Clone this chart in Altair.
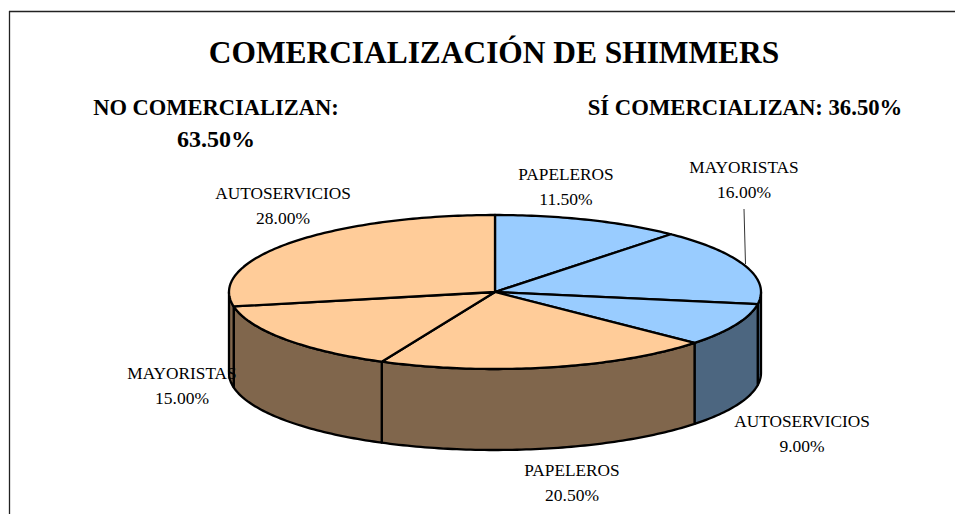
import math
import altair as alt
import pandas as pd

# ---- values (clockwise from 12 o'clock) ----
categories = ["PAPELEROS", "MAYORISTAS", "AUTOSERVICIOS", "PAPELEROS", "MAYORISTAS", "AUTOSERVICIOS"]
shares = [11.5, 16.0, 9.0, 20.5, 15.0, 28.0]
top_colors = ["#99CCFF", "#99CCFF", "#99CCFF", "#FFCC99", "#FFCC99", "#FFCC99"]
wall_colors = ["#4C6680", "#4C6680", "#4C6680", "#80664C", "#80664C", "#80664C"]
title_text = "COMERCIALIZACIÓN DE SHIMMERS"
left_head = ["NO COMERCIALIZAN:", "63.50%"]
right_head = ["SÍ COMERCIALIZAN: 36.50%"]

# ---- layout (pixels on the 963x522 page) ----
M = 8
W, H = 947, 506
CX, CY, RX, RY, DEPTH = 495, 292, 266, 77, 81
FONT = "Liberation Serif"
LINE = 2.3
label_pos = [(566, 180), (744, 173), (802, 427), (572, 476), (182, 379), (283, 199)]

x_scale = alt.Scale(domain=[-1, 1], range=[CX - RX - M, CX + RX - M])
y_scale = alt.Scale(domain=[-1, 1], range=[CY + RY - M, CY - RY - M])
x_enc = alt.X("x:Q", scale=x_scale, axis=None)
y_enc = alt.Y("y:Q", scale=y_scale, axis=None)
depth_u = DEPTH / RY


def arc(a0, a1):
    n = max(2, int(abs(a1 - a0)) + 2)
    return [a0 + (a1 - a0) * i / (n - 1) for i in range(n)]


def pt(a):
    r = math.radians(a)
    return math.sin(r), math.cos(r)


layers = []

# frame
layers.append(alt.Chart(pd.DataFrame({"k": [0]})).mark_rule(color="#222222", strokeWidth=1.3).encode(
    x=alt.value(1.5), y=alt.value(3), y2=alt.value(H)))
layers.append(alt.Chart(pd.DataFrame({"k": [0]})).mark_rule(color="#222222", strokeWidth=1.3).encode(
    x=alt.value(1), x2=alt.value(W), y=alt.value(3.5)))

start = 0.0
spans = []
for s in shares:
    spans.append((start, start + s * 3.6))
    start += s * 3.6

# walls: only the front half of the disc shows
for (a0, a1), c in zip(spans, wall_colors):
    lo, hi = max(a0, 90), min(a1, 270)
    if lo >= hi:
        continue
    rows = []
    for a in arc(lo, hi):
        px, py = pt(a)
        rows.append({"x": px, "y": py, "y2": py - depth_u})
    layers.append(alt.Chart(pd.DataFrame(rows)).mark_area(
        color=c, stroke="black", strokeWidth=LINE, strokeJoin="round").encode(
        x=x_enc, y=y_enc, y2="y2:Q"))

# top face
for (a0, a1), c in zip(spans, top_colors):
    rows = [{"x": 0.0, "y": 0.0}]
    rows += [{"x": pt(a)[0], "y": pt(a)[1]} for a in arc(a0, a1)]
    rows.append({"x": 0.0, "y": 0.0})
    for i, r in enumerate(rows):
        r["o"] = i
    layers.append(alt.Chart(pd.DataFrame(rows)).mark_line(
        fill=c, stroke="black", strokeWidth=LINE, strokeJoin="round").encode(
        x=x_enc, y=y_enc, order="o:Q"))

# leader line
layers.append(alt.Chart(pd.DataFrame({"k": [0]})).mark_rule(color="#333333", strokeWidth=1).encode(
    x=alt.value(744 - M), x2=alt.value(745.5 - M), y=alt.value(209 - M), y2=alt.value(264 - M)))


def text(s, cx, base, size, bold=False):
    return alt.Chart(pd.DataFrame({"t": [s]})).mark_text(
        font=FONT, fontSize=size, fontWeight="bold" if bold else "normal",
        align="center", baseline="alphabetic", color="black").encode(
        x=alt.value(cx - M), y=alt.value(base - M), text="t:N")


layers.append(text(title_text, 494, 63, 31.4, True))
layers.append(text(left_head[0], 216, 115, 22.5, True))
layers.append(text(left_head[1], 216, 147, 24, True))
layers.append(text(right_head[0], 745, 115, 22.7, True))

for cat, s, (lx, ly) in zip(categories, shares, label_pos):
    layers.append(text(cat, lx, ly, 17.3))
    layers.append(text(f"{s:.2f}%", lx, ly + 25, 17.5))

chart = alt.layer(*layers).properties(
    width=W, height=H,
    padding=0,
    autosize=alt.AutoSizeParams(type="none"),
    background="white",
).configure_view(stroke=None)

chart.save("out.html", embed_options={"renderer": "svg", "actions": False})
